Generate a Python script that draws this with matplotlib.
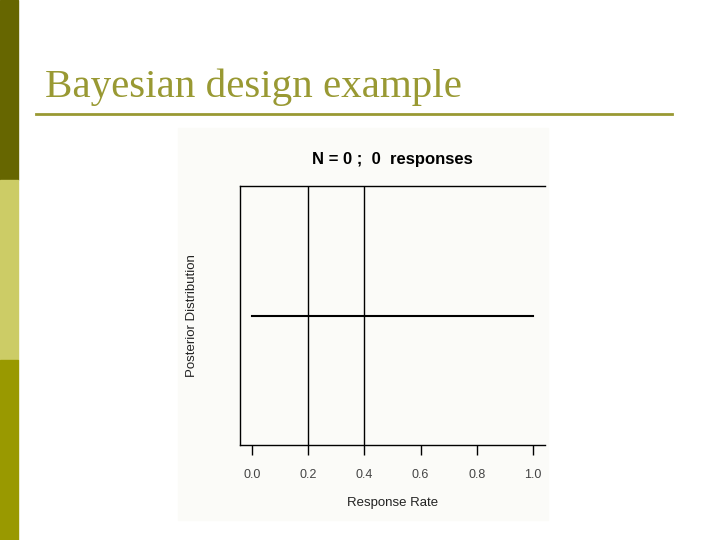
import matplotlib.pyplot as plt
from matplotlib.patches import Rectangle

# data
response_rate = [0.0, 1.0]
posterior = [1.0, 1.0]
ref_lines = [0.2, 0.4]
x_ticks = [0.0, 0.2, 0.4, 0.6, 0.8, 1.0]
x_tick_labels = ["0.0", "0.2", "0.4", "0.6", "0.8", "1.0"]
slide_title = "Bayesian design example"
plot_title = "N = 0 ;  0  responses"

fig = plt.figure(figsize=(7.2, 5.4), dpi=100)
fig.patch.set_facecolor("white")

# left colour strip of the slide
strip_colors = ["#666600", "#cccc66", "#999900"]
for i, c in enumerate(strip_colors):
    fig.patches.append(Rectangle((0, 1 - (i + 1) / 3), 18 / 720, 1 / 3,
                                 transform=fig.transFigure, color=c, zorder=-2))

# slide title + underline
fig.text(45 / 720, 1 - 97 / 540, slide_title, family="Liberation Serif",
         fontsize=29.5, color="#999933", ha="left", va="baseline")
fig.add_artist(plt.Line2D([36 / 720, 672 / 720], [1 - 114 / 540, 1 - 114 / 540],
                          transform=fig.transFigure, color="#999933", lw=2))

# pasted chart image background
fig.patches.append(Rectangle((178 / 720, 1 - 520 / 540), 370 / 720, 392 / 540,
                             transform=fig.transFigure, color="#fbfbf8", zorder=-1))

ax = fig.add_axes([240 / 720, 1 - 445 / 540, 305 / 720, 259 / 540])
ax.set_zorder(2)
ax.set_facecolor("none")
ax.plot(response_rate, posterior, color="black", lw=1.5)
for v in ref_lines:
    ax.axvline(v, color="black", lw=1)
ax.set_xlim(-0.0427, 1.0427)
ax.set_ylim(0, 2)
ax.spines["right"].set_visible(False)
for s in ["top", "left", "bottom"]:
    ax.spines[s].set_linewidth(1)
ax.set_yticks([])
ax.set_xticks(x_ticks)
ax.set_xticklabels(x_tick_labels, family="Liberation Sans", fontsize=9, color="#444444")
ax.tick_params(axis="x", direction="out", length=7, pad=10, width=1)
ax.set_xlabel("Response Rate", family="Liberation Sans", fontsize=9.5,
              color="#222222", labelpad=12)
ax.set_ylabel("Posterior Distribution", family="Liberation Sans", fontsize=9.5,
              color="#222222", labelpad=30)
ax.set_title(plot_title, family="Liberation Sans", fontweight="bold",
             fontsize=12, pad=16)

fig.savefig("out.png", dpi=100)
